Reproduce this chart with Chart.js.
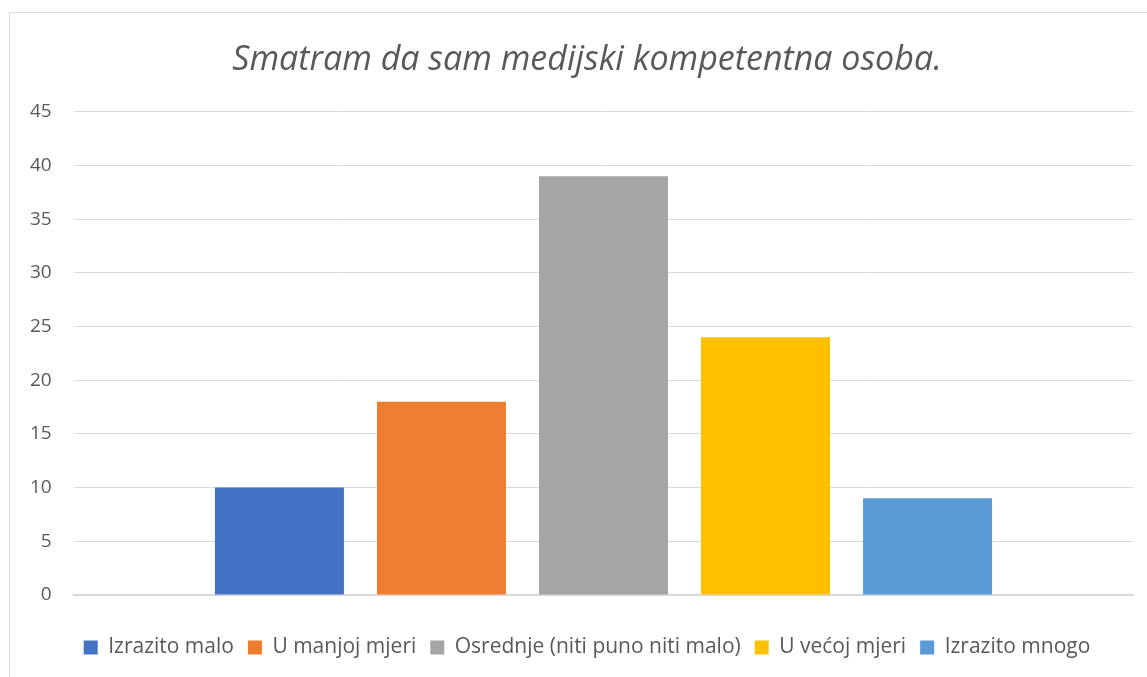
<!DOCTYPE html>
<html>
<head>
<meta charset="utf-8">
<script src="https://cdn.jsdelivr.net/npm/chart.js@4.4.1/dist/chart.umd.min.js"></script>
<style>
    body{margin:0;background:#fff;}
    #wrap{position:relative;width:1147px;height:677px;overflow:hidden;}
    #frame{position:absolute;left:9px;top:12px;width:1200px;height:700px;border:1px solid #d9d9d9;}
    canvas{position:absolute;left:0;top:0;}
</style>
</head>
<body>
<div id="wrap">
    <div id="frame"></div>
    <canvas id="myChart" width="1147" height="677"></canvas>
</div>
<script>
const chartTitle = 'Smatram da sam medijski kompetentna osoba.';
const categories = [''];
const seriesNames = ['Izrazito malo', 'U manjoj mjeri', 'Osrednje (niti puno niti malo)', 'U većoj mjeri', 'Izrazito mnogo'];
const seriesValues = [10, 18, 39, 24, 9];
const seriesColors = ['#4472C4', '#ED7D31', '#A5A5A5', '#FFC000', '#5B9BD5'];
const yTicks = [0, 5, 10, 15, 20, 25, 30, 35, 40, 45];

const textColor = '#595959';
const fontName = '"Open Sans", sans-serif';

Chart.defaults.font.family = fontName;
Chart.defaults.color = textColor;
Chart.defaults.animation = false;

const ctx = document.getElementById('myChart');

new Chart(ctx, {
    type: 'bar',
    data: {
        labels: categories,
        datasets: seriesNames.map((name, i) => ({
            label: name,
            data: [seriesValues[i]],
            backgroundColor: seriesColors[i],
            categoryPercentage: 0.765,
            barPercentage: 0.796
        }))
    },
    options: {
        responsive: false,
        layout: {padding: {left: 41, right: 14, top: 0, bottom: 9}},
        plugins: {
            title: {
                display: true,
                text: chartTitle,
                color: textColor,
                font: {size: 34, style: 'italic', weight: 'normal'},
                padding: {top: 40, bottom: 31}
            },
            legend: {
                position: 'bottom',
                labels: {
                    boxWidth: 14,
                    boxHeight: 14,
                    padding: 14,
                    color: textColor,
                    font: {size: 21}
                }
            },
            tooltip: {enabled: false}
        },
        scales: {
            x: {
                ticks: {display: false},
                grid: {display: false},
                border: {color: '#d9d9d9', width: 2},
                afterFit: s => { s.height = 28; }
            },
            y: {
                min: 0,
                max: 45,
                afterBuildTicks: s => { s.ticks = yTicks.map(v => ({value: v})); },
                // mirrored so the labels are not clipped to the narrow axis box
                ticks: {mirror: true, crossAlign: 'far', padding: -44, font: {size: 19}, color: textColor},
                grid: {color: '#d9d9d9', drawTicks: false},
                border: {display: false},
                afterFit: s => { s.width = 33; }
            }
        }
    }
});
</script>
</body>
</html>
